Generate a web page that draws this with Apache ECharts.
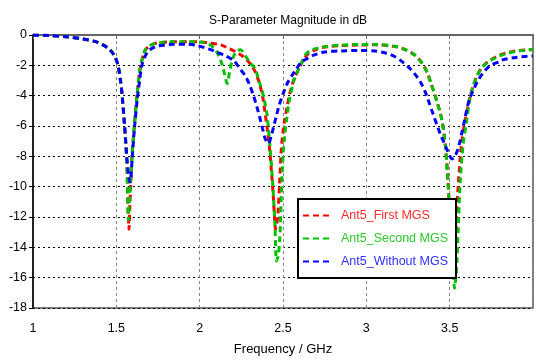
<!DOCTYPE html>
<html>
<head>
<meta charset="utf-8">
<script src="https://cdn.jsdelivr.net/npm/echarts@6/dist/echarts.min.js"></script>
<style>
  html, body { margin: 0; padding: 0; background: #fff; }
  #chart { width: 536px; height: 361px; }
</style>
</head>
<body>
<div id="chart"></div>
<script>
// values (GHz / dB)
var freqFirst = [1.00, 1.10, 1.20, 1.30, 1.37, 1.42, 1.46, 1.49, 1.51, 1.525, 1.535, 1.549, 1.561, 1.567, 1.572, 1.576, 1.580, 1.586, 1.594, 1.608, 1.624, 1.64, 1.655, 1.673, 1.70, 1.732, 1.78, 1.83, 1.90, 2.00, 2.06, 2.126, 2.165, 2.225, 2.254, 2.283, 2.313, 2.34, 2.362, 2.38, 2.392, 2.408, 2.421, 2.432, 2.441, 2.449, 2.455, 2.462, 2.471, 2.48, 2.49, 2.50, 2.51, 2.525, 2.54, 2.56, 2.579, 2.609, 2.64, 2.68, 2.75, 2.85, 2.95, 3.05, 3.17, 3.23, 3.288, 3.32, 3.347, 3.37, 3.387, 3.41, 3.426, 3.445, 3.456, 3.467, 3.476, 3.489, 3.501, 3.513, 3.524, 3.533, 3.541, 3.554, 3.57, 3.59, 3.61, 3.624, 3.643, 3.663, 3.69, 3.722, 3.76, 3.80, 3.84, 3.879, 3.92, 3.968, 4.00];
var dbFirst = [0, -0.04, -0.12, -0.26, -0.42, -0.65, -0.95, -1.4, -2.0, -3.0, -4.0, -6.0, -8.0, -10.0, -11.8, -12.8, -11.6, -10.0, -8.0, -6.0, -4.0, -2.4, -1.6, -1.0, -0.72, -0.55, -0.48, -0.45, -0.44, -0.46, -0.53, -0.65, -0.83, -1.15, -1.37, -1.65, -2.03, -2.6, -3.33, -4.2, -5.1, -6.4, -7.7, -9.2, -10.5, -12.0, -12.8, -12.5, -11.6, -9.65, -7.5, -6.4, -5.6, -4.7, -3.9, -3.1, -2.6, -1.9, -1.35, -1.05, -0.8, -0.7, -0.66, -0.65, -0.76, -0.95, -1.3, -1.65, -2.07, -2.6, -3.16, -3.9, -4.47, -5.2, -5.77, -6.6, -7.5, -9.5, -11.9, -14.0, -15.0, -14.4, -11.9, -9.5, -7.3, -5.8, -4.7, -4.0, -3.3, -2.72, -2.2, -1.83, -1.55, -1.33, -1.18, -1.08, -1.02, -0.98, -0.96];

var freqSecond = [1.00, 1.10, 1.20, 1.30, 1.37, 1.42, 1.46, 1.49, 1.51, 1.525, 1.535, 1.549, 1.561, 1.567, 1.572, 1.577, 1.585, 1.594, 1.608, 1.624, 1.64, 1.655, 1.673, 1.70, 1.732, 1.78, 1.83, 1.90, 2.00, 2.05, 2.08, 2.10, 2.13, 2.15, 2.165, 2.18, 2.20, 2.225, 2.245, 2.274, 2.30, 2.333, 2.355, 2.372, 2.388, 2.402, 2.412, 2.421, 2.436, 2.451, 2.461, 2.47, 2.48, 2.49, 2.50, 2.51, 2.52, 2.54, 2.569, 2.609, 2.638, 2.68, 2.756, 2.85, 2.95, 3.052, 3.17, 3.23, 3.288, 3.32, 3.347, 3.37, 3.387, 3.41, 3.426, 3.445, 3.456, 3.467, 3.476, 3.489, 3.501, 3.515, 3.522, 3.529, 3.537, 3.544, 3.554, 3.564, 3.58, 3.60, 3.624, 3.643, 3.663, 3.69, 3.722, 3.76, 3.80, 3.84, 3.879, 3.92, 3.968, 4.00];
var dbSecond = [0, -0.04, -0.12, -0.26, -0.42, -0.65, -0.95, -1.4, -2.0, -3.0, -4.0, -6.0, -8.0, -10.0, -12.2, -11.2, -9.7, -8.0, -6.0, -4.0, -2.4, -1.6, -1.0, -0.72, -0.55, -0.48, -0.45, -0.44, -0.46, -0.58, -0.8, -1.05, -1.8, -2.6, -3.2, -2.4, -1.5, -1.05, -0.98, -1.37, -1.8, -2.24, -3.0, -3.55, -4.3, -5.1, -6.1, -7.25, -9.4, -12.3, -14.9, -14.6, -13.6, -10.5, -7.9, -6.7, -5.7, -4.2, -2.9, -1.9, -1.25, -0.95, -0.76, -0.66, -0.62, -0.62, -0.74, -0.95, -1.3, -1.65, -2.07, -2.6, -3.16, -3.9, -4.47, -5.2, -5.77, -6.6, -7.5, -9.5, -11.9, -14.5, -15.6, -16.7, -16.0, -14.9, -12.0, -9.5, -7.3, -5.77, -4.03, -3.3, -2.72, -2.2, -1.85, -1.58, -1.38, -1.22, -1.12, -1.04, -0.98, -0.95];

var freqWithout = [1.00, 1.10, 1.20, 1.30, 1.37, 1.42, 1.46, 1.49, 1.51, 1.525, 1.535, 1.55, 1.563, 1.574, 1.582, 1.589, 1.596, 1.61, 1.626, 1.64, 1.653, 1.673, 1.693, 1.72, 1.752, 1.82, 1.929, 1.98, 2.028, 2.07, 2.106, 2.15, 2.205, 2.24, 2.274, 2.30, 2.323, 2.345, 2.362, 2.378, 2.392, 2.412, 2.431, 2.445, 2.461, 2.475, 2.49, 2.51, 2.53, 2.555, 2.579, 2.609, 2.638, 2.68, 2.75, 2.85, 2.95, 3.052, 3.12, 3.17, 3.22, 3.269, 3.30, 3.328, 3.355, 3.377, 3.40, 3.426, 3.446, 3.466, 3.49, 3.515, 3.53, 3.544, 3.56, 3.574, 3.59, 3.603, 3.62, 3.643, 3.67, 3.70, 3.742, 3.80, 3.82, 3.899, 3.968, 4.00];
var dbWithout = [0, -0.04, -0.12, -0.26, -0.42, -0.65, -0.95, -1.4, -2.0, -3.0, -4.0, -6.0, -8.0, -9.3, -9.7, -9.2, -8.0, -6.0, -4.2, -3.0, -2.0, -1.4, -1.05, -0.85, -0.72, -0.63, -0.61, -0.68, -0.83, -0.98, -1.15, -1.35, -1.7, -2.2, -2.7, -3.3, -4.0, -4.8, -5.5, -6.2, -6.8, -7.15, -6.6, -6.0, -5.3, -4.7, -4.2, -3.6, -3.1, -2.65, -2.26, -1.8, -1.6, -1.35, -1.12, -1.05, -1.02, -1.05, -1.2, -1.42, -1.8, -2.29, -2.7, -3.16, -3.8, -4.47, -5.2, -6.0, -6.6, -7.08, -7.7, -8.17, -8.0, -7.7, -7.1, -6.4, -5.6, -4.9, -4.2, -3.6, -3.0, -2.5, -2.03, -1.75, -1.63, -1.48, -1.4, -1.38];

var seriesNames = ['Ant5_First MGS', 'Ant5_Second MGS', 'Ant5_Without MGS'];
var seriesColors = ['#ff0000', '#00c000', '#0000ff'];
var legendTextColors = ['#ff2a2a', '#2ac82a', '#3030ff'];
var xTicks = [1, 1.5, 2, 2.5, 3, 3.5];

function zip(xs, ys) {
    var out = [];
    for (var i = 0; i < xs.length; i++) {
        out.push([xs[i], ys[i]]);
    }
    return out;
}

var seriesData = [zip(freqFirst, dbFirst), zip(freqSecond, dbSecond), zip(freqWithout, dbWithout)];

var font = '"Liberation Sans", Arial, sans-serif';

var option = {
    animation: false,
    backgroundColor: '#fff',
    title: {
        text: 'S-Parameter Magnitude in dB',
        left: 204,
        top: 10,
        textStyle: { fontFamily: font, fontSize: 12, fontWeight: 'normal', color: '#000' }
    },
    legend: {
        orient: 'vertical',
        left: 298,
        top: 199,
        backgroundColor: '#fff',
        borderColor: '#000',
        borderWidth: 2,
        borderRadius: 0,
        padding: [10, 8, 10, 4],
        itemGap: 10,
        itemWidth: 27,
        itemHeight: 14,
        itemStyle: { opacity: 0 },
        textStyle: { fontFamily: font, fontSize: 12.5, padding: [0, 0, 0, 6] },
        data: seriesNames.map(function (n, i) {
            return { name: n, textStyle: { color: legendTextColors[i] } };
        })
    },
    grid: {
        left: 33,
        top: 35,
        width: 507.6,
        height: 276,
        show: true,
        borderColor: '#555',
        borderWidth: 1.5
    },
    xAxis: {
        type: 'value',
        min: 1,
        max: 4,
        interval: 0.5,
        name: 'Frequency / GHz',
        nameLocation: 'middle',
        nameGap: 35,
        nameTextStyle: { fontFamily: font, fontSize: 13, color: '#000' },
        axisLine: { lineStyle: { color: '#666', width: 2 } },
        axisTick: { show: true, length: 4, lineStyle: { color: '#666' } },
        axisLabel: {
            fontFamily: font, fontSize: 12.5, color: '#000', margin: 14,
            formatter: function (v) { return xTicks.indexOf(v) >= 0 ? String(v) : ''; }
        },
        splitLine: { show: true, lineStyle: { color: '#888', type: [3, 3], width: 1 } }
    },
    yAxis: {
        type: 'value',
        min: -18,
        max: 0,
        interval: 2,
        axisLine: { show: true, lineStyle: { color: '#000', width: 1.5 } },
        axisTick: { show: true, length: 4, lineStyle: { color: '#000' } },
        axisLabel: { fontFamily: font, fontSize: 12.5, color: '#000', margin: 6 },
        splitLine: { show: true, lineStyle: { color: '#000', type: [2, 3], width: 1 } }
    },
    series: seriesNames.map(function (n, i) {
        return {
            name: n,
            type: 'line',
            data: seriesData[i],
            symbol: 'none',
            smooth: 0.3,
            color: seriesColors[i],
            lineStyle: { color: seriesColors[i], width: 3, type: [6, 4] }
        };
    })
};

var myChart = echarts.init(document.getElementById('chart'));
myChart.setOption(option);
</script>
</body>
</html>
